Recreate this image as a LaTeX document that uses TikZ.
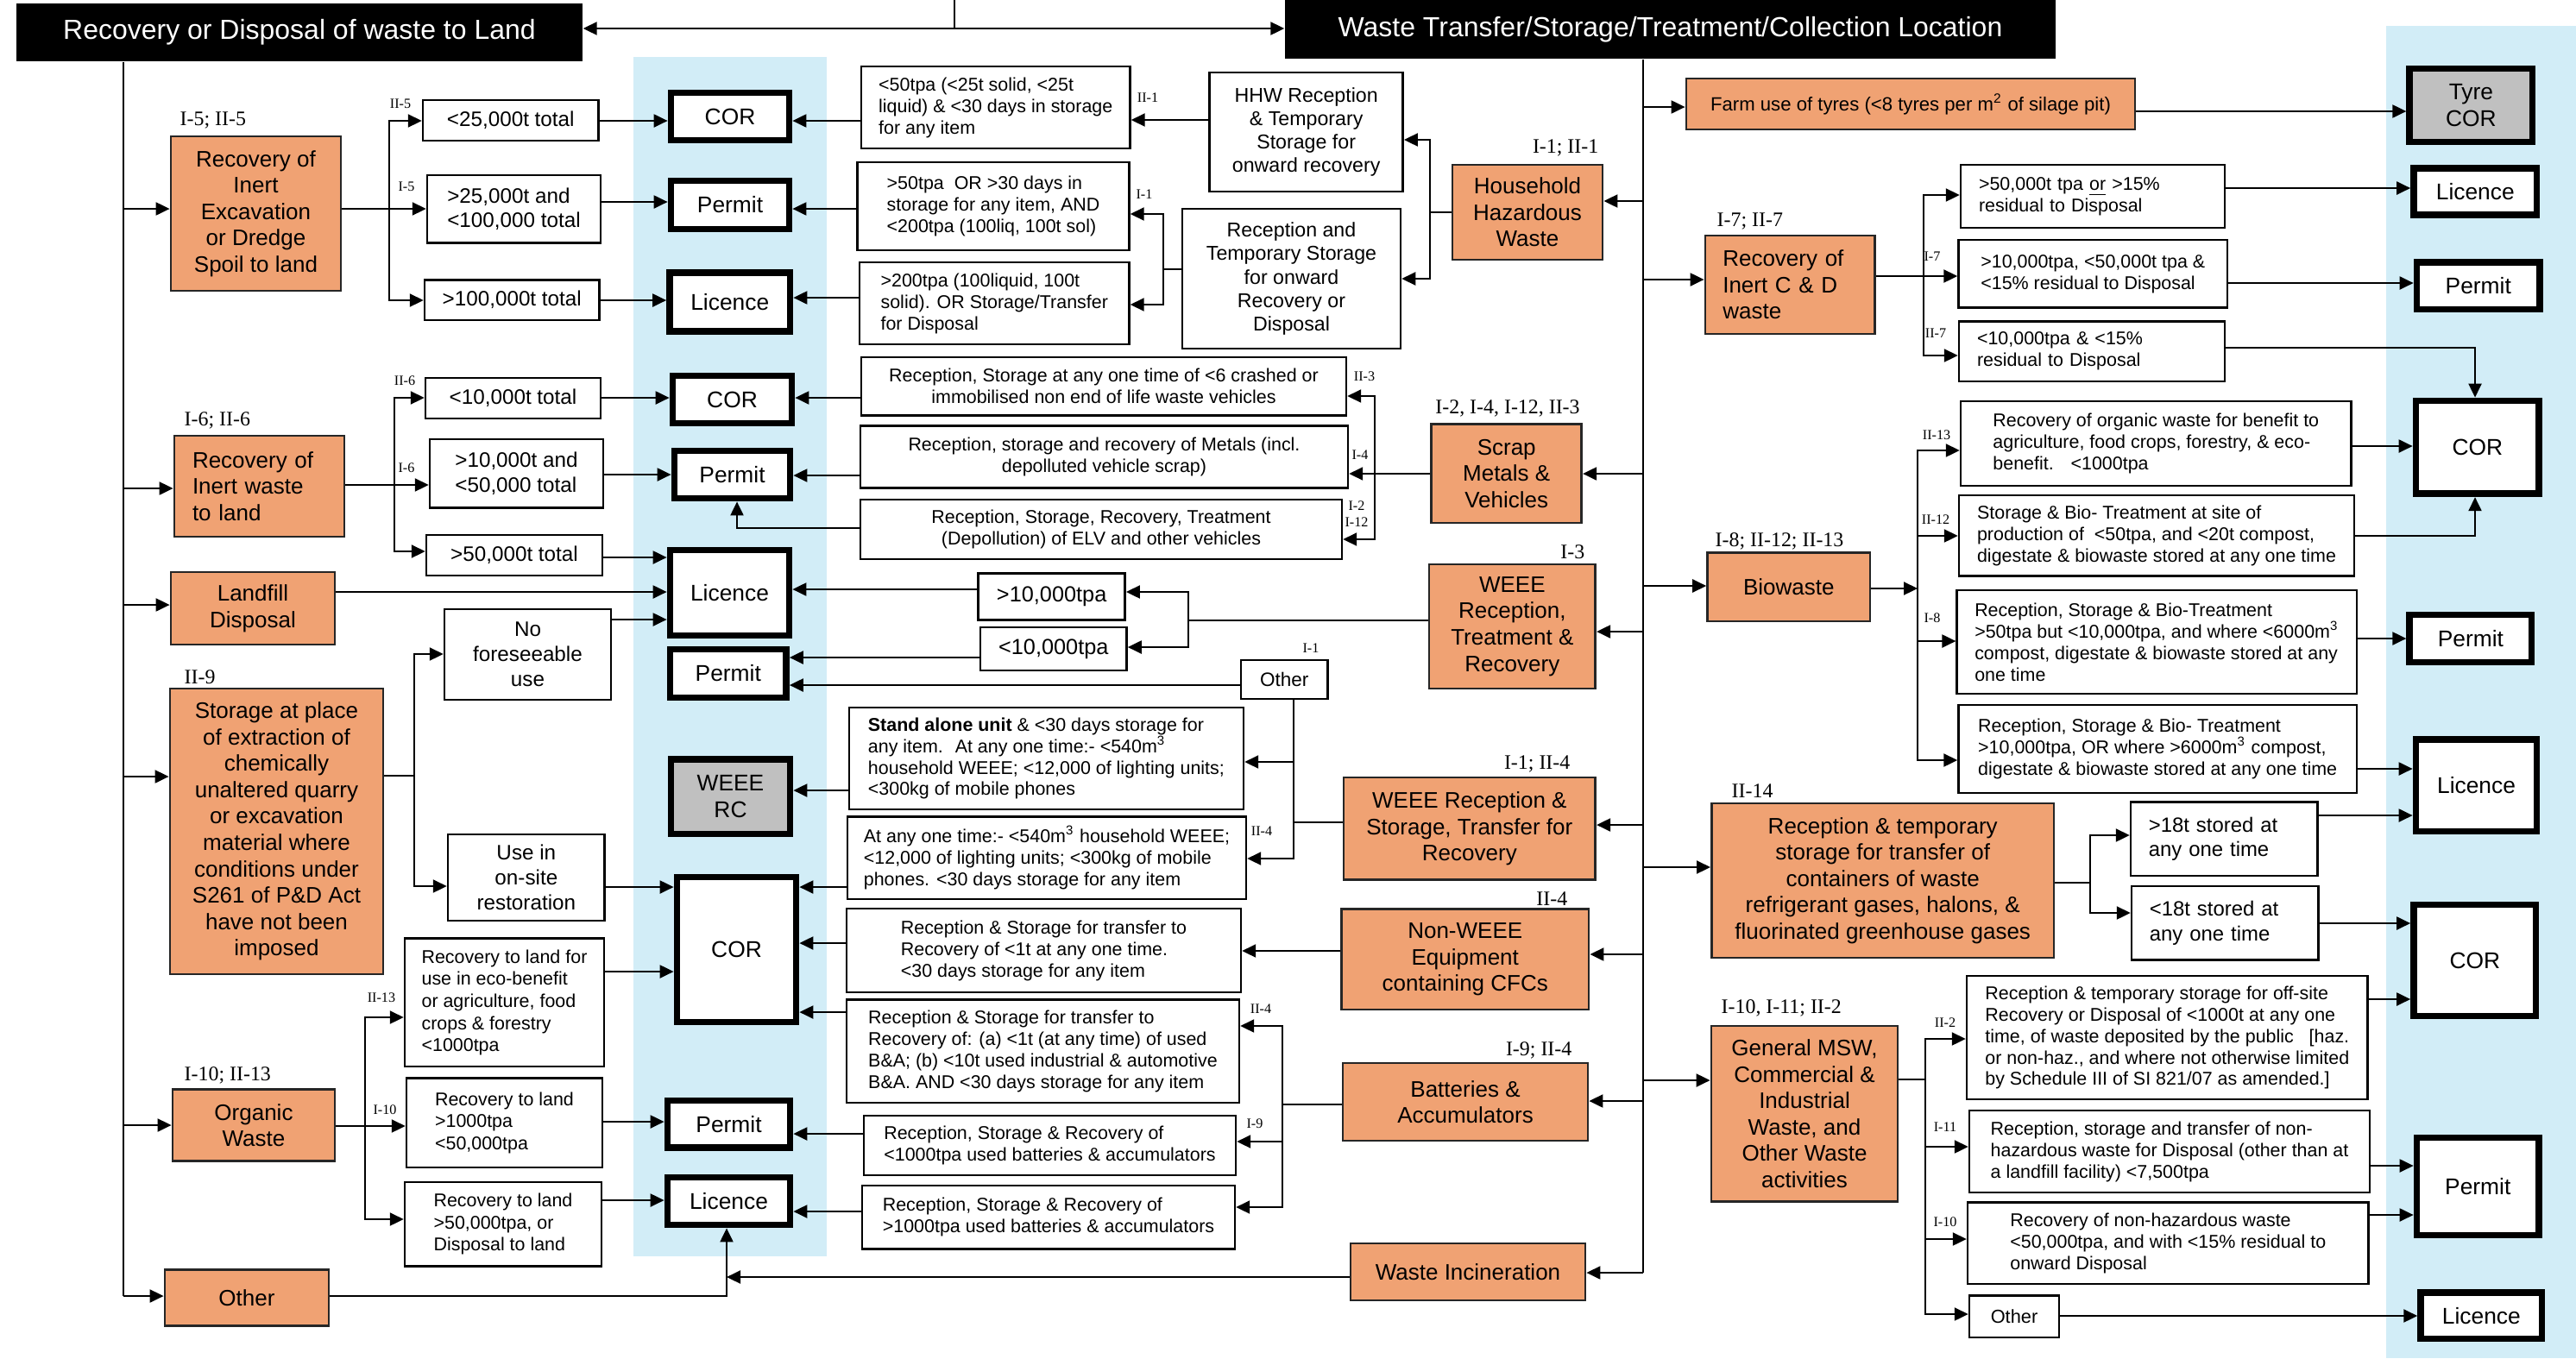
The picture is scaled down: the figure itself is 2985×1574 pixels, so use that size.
\documentclass[tikz,border=0pt]{standalone}
\usepackage{fontspec}
\setmainfont{Liberation Sans}
\newfontfamily\lblfont{Liberation Serif}
\usetikzlibrary{arrows.meta}

\definecolor{wasteorange}{RGB}{240,162,115}
\definecolor{regblue}{RGB}{210,237,247}
\definecolor{regrey}{RGB}{192,192,192}

\tikzset{
  hdr/.style={fill=black, text=white, inner sep=0pt, font=\fontsize{9.1}{11}\selectfont},
  obox/.style={draw=black!85, line width=0.8pt, fill=wasteorange, inner sep=1pt, align=center, font=\fontsize{7.4}{8.7}\selectfont},
  tbox/.style={draw, line width=0.7pt, fill=white, inner sep=1pt, align=left, font=\fontsize{6.9}{8.2}\selectfont},
  sbox/.style={draw, line width=0.7pt, fill=white, inner sep=1pt, align=left, font=\fontsize{6.1}{7.1}\selectfont},
  rbox/.style={draw, line width=2.2pt, fill=white, inner sep=1pt, align=center, font=\fontsize{7.5}{8.8}\selectfont},
  gbox/.style={rbox, fill=regrey},
  lbl/.style={inner sep=0pt, font=\lblfont\fontsize{6.8}{8}\selectfont},
  slbl/.style={inner sep=0pt, font=\lblfont\fontsize{4.6}{5.5}\selectfont},
  ln/.style={line width=0.6pt},
  arr/.style={line width=0.6pt, -{Triangle[length=1.6mm,width=1.5mm]}},
}

\begin{document}
\begin{tikzpicture}[x=0.1mm, y=-0.1mm]
  \useasboundingbox (0,0) rectangle (2985,1574);

  % Regulation bands
  \fill[regblue] (734,66) rectangle (958,1456);
  \fill[regblue] (2765,30) rectangle (2985,1574);

  % Bus and junction points
  \coordinate (topj) at (1106,0);
  \coordinate (lbus) at (143,0);
  \coordinate (mbus) at (1904,0);
  \coordinate (jA) at (451,0);
  \coordinate (jB) at (457,0);
  \coordinate (jD) at (480,0);
  \coordinate (jE) at (423,0);
  \coordinate (jL) at (842,0);
  \coordinate (jP) at (854,0);
  \coordinate (jH1) at (1657,0);
  \coordinate (jH2) at (1348,0);
  \coordinate (jS) at (1593,0);
  \coordinate (jW) at (1377,0);
  \coordinate (jO) at (1499,0);
  \coordinate (jBt) at (1486,0);
  \coordinate (jC) at (2229,0);
  \coordinate (jBio) at (2222,0);
  \coordinate (jR) at (2422,0);
  \coordinate (jM) at (2231,0);
  \coordinate (jCR) at (2868,0);

  % Headers
  \node[hdr, minimum width=65.6mm, minimum height=6.7mm] (hdrL) at (347,37.5) {Recovery or Disposal of waste to Land};
  \node[hdr, minimum width=89.3mm, minimum height=6.8mm] (hdrR) at (1935.5,34) {Waste Transfer/Storage/Treatment/Collection Location};

  % Land side activities
  \node[obox, minimum width=19.7mm, minimum height=17.9mm] (inertex) at (296.5,247.5) {Recovery of\\Inert\\Excavation\\or Dredge\\Spoil to land};
  \node[obox, align=left, text width=15.5mm, minimum width=19.7mm, minimum height=11.7mm] (inertw) at (300.5,563.5) {Recovery of\\Inert waste\\to land};
  \node[obox, minimum width=19.0mm, minimum height=8.4mm] (landfill) at (293,705) {Landfill\\Disposal};
  \node[obox, minimum width=24.7mm, minimum height=33.1mm] (storage) at (320.5,963.5) {Storage at place\\of extraction of\\chemically\\unaltered quarry\\or excavation\\material where\\conditions under\\S261 of P\&D Act\\have not been\\imposed};
  \node[obox, minimum width=18.8mm, minimum height=8.25mm] (organic) at (294,1304) {Organic\\Waste};
  \node[obox, minimum width=19.0mm, minimum height=6.55mm] (otherL) at (286,1504) {Other};

  \node[lbl, anchor=west] (lA) at (208,140) {I-5; II-5};
  \node[lbl, anchor=west] (lB) at (213,487) {I-6; II-6};
  \node[lbl, anchor=west] (lD) at (213,785) {II-9};
  \node[lbl, anchor=west] (lE) at (213,1246) {I-10; II-13};

  % Tonnage boxes
  \node[tbox, minimum width=20.35mm, minimum height=4.7mm] (t1) at (591.75,139.5) {<25,000t total};
  \node[tbox, minimum width=20.1mm, minimum height=7.85mm] (t2) at (595.5,242.25) {>25,000t and\\<100,000 total};
  \node[tbox, minimum width=20.25mm, minimum height=4.65mm] (t3) at (593.25,347.75) {>100,000t total};
  \node[tbox, minimum width=20.3mm, minimum height=4.7mm] (t4) at (594.5,461.5) {<10,000t total};
  \node[tbox, minimum width=20.1mm, minimum height=7.96mm] (t5) at (598.5,548.8) {>10,000t and\\<50,000 total};
  \node[tbox, minimum width=20.4mm, minimum height=4.7mm] (t6) at (596,643.5) {>50,000t total};
  \node[tbox, align=center, minimum width=19.3mm, minimum height=10.5mm] (noforesee) at (611.5,758.5) {No\\foreseeable\\use};
  \node[tbox, align=center, minimum width=18.17mm, minimum height=10.0mm] (useonsite) at (609.85,1017) {Use in\\on-site\\restoration};
  \node[tbox, font=\fontsize{6.1}{7.3}\selectfont, minimum width=23.1mm, minimum height=14.83mm] (o1) at (584.5,1161.85) {Recovery to land for\\use in eco-benefit\\or agriculture, food\\crops \& forestry\\<1000tpa};
  \node[tbox, font=\fontsize{6.1}{7.3}\selectfont, minimum width=22.7mm, minimum height=10.35mm] (o2) at (584.5,1301.25) {Recovery to land\\>1000tpa\\<50,000tpa};
  \node[tbox, font=\fontsize{6.1}{7.3}\selectfont, minimum width=22.8mm, minimum height=9.75mm] (o3) at (583,1418.75) {Recovery to land\\>50,000tpa, or\\Disposal to land};

  \node[slbl] (sA1) at (464,120) {II-5};
  \node[slbl] (sA2) at (471,216) {I-5};
  \node[slbl] (sB1) at (469,441) {II-6};
  \node[slbl] (sB2) at (471,542) {I-6};
  \node[slbl] (sE1) at (442,1156) {II-13};
  \node[slbl] (sE2) at (446,1286) {I-10};

  % Left regulation boxes
  \node[rbox, minimum width=13.7mm, minimum height=5.5mm] (cor1) at (846,135) {COR};
  \node[rbox, minimum width=13.7mm, minimum height=5.6mm] (permit1) at (846,237.5) {Permit};
  \node[rbox, minimum width=13.95mm, minimum height=6.81mm] (lic1) at (845.75,350.15) {Licence};
  \node[rbox, minimum width=13.8mm, minimum height=5.5mm] (cor2) at (848.5,463) {COR};
  \node[rbox, minimum width=13.4mm, minimum height=5.5mm] (permit2) at (848.5,550) {Permit};
  \node[rbox, minimum width=13.8mm, minimum height=9.9mm] (lic2) at (845.5,687) {Licence};
  \node[rbox, minimum width=13.45mm, minimum height=5.6mm] (permit3) at (843.75,780.5) {Permit};
  \node[gbox, minimum width=13.8mm, minimum height=8.64mm] (weeerc) at (846.5,923.3) {WEEE\\RC};
  \node[rbox, minimum width=13.8mm, minimum height=16.8mm] (cor3) at (853.5,1100.5) {COR};
  \node[rbox, minimum width=14.2mm, minimum height=5.46mm] (permit4) at (844.5,1302.8) {Permit};
  \node[rbox, minimum width=14.2mm, minimum height=5.5mm] (lic3) at (844.5,1392) {Licence};

  % Household hazardous waste
  \node[sbox, minimum width=31.15mm, minimum height=9.5mm] (hhw1) at (1153.75,124.5) {<50tpa (<25t solid, <25t\\liquid) \& <30 days in storage\\for any item};
  \node[sbox, minimum width=31.5mm, minimum height=10.2mm] (hhw2) at (1151,239) {>50tpa~ OR >30 days in\\storage for any item, AND\\<200tpa (100liq, 100t sol)};
  \node[sbox, minimum width=31.25mm, minimum height=9.5mm] (hhw3) at (1152.25,351.5) {>200tpa (100liquid, 100t\\solid). OR Storage/Transfer\\for Disposal};
  \node[tbox, align=center, font=\fontsize{6.6}{7.7}\selectfont, minimum width=22.41mm, minimum height=13.8mm] (hhwrec) at (1513.65,153) {HHW Reception\\\& Temporary\\Storage for\\onward recovery};
  \node[tbox, align=center, font=\fontsize{6.6}{7.7}\selectfont, minimum width=25.3mm, minimum height=16.2mm] (recontemp) at (1496.5,323) {Reception and\\Temporary Storage\\for onward\\Recovery or\\Disposal};
  \node[obox, minimum width=17.4mm, minimum height=11.0mm] (hhw) at (1770,246) {Household\\Hazardous\\Waste};
  \node[lbl, anchor=east] (lH) at (1853,171) {I-1; II-1};
  \node[slbl] (sH1) at (1330,113) {II-1};
  \node[slbl] (sH2) at (1326,225) {I-1};

  % Scrap metals and vehicles
  \node[sbox, align=center, minimum width=56.2mm, minimum height=6.76mm] (scr1) at (1279,447.8) {Reception, Storage at any one time of <6 crashed or\\immobilised non end of life waste vehicles};
  \node[sbox, align=center, minimum width=56.5mm, minimum height=7.21mm] (scr2) at (1279.5,529.55) {Reception, storage and recovery of Metals (incl.\\depolluted vehicle scrap)};
  \node[sbox, align=center, minimum width=55.8mm, minimum height=6.9mm] (scr3) at (1276,613.5) {Reception, Storage, Recovery, Treatment\\(Depollution) of ELV and other vehicles};
  \node[obox, minimum width=17.4mm, minimum height=11.42mm] (scrap) at (1745.7,548.9) {Scrap\\Metals \&\\Vehicles};
  \node[lbl] (lS) at (1747,473) {I-2, I-4, I-12, II-3};
  \node[slbl] (sS1) at (1581,436) {II-3};
  \node[slbl] (sS2) at (1576,527) {I-4};
  \node[slbl] (sS3) at (1572,586) {I-2};
  \node[slbl] (sS4) at (1572,605) {I-12};

  % WEEE
  \node[obox, minimum width=19.27mm, minimum height=14.4mm] (weeertr) at (1752.35,726) {WEEE\\Reception,\\Treatment \&\\Recovery};
  \node[lbl, anchor=east] (lW) at (1837,640) {I-3};
  \node[tbox, align=center, font=\fontsize{7.2}{8.4}\selectfont, minimum width=17.01mm, minimum height=5.37mm] (gt10) at (1218.65,691.55) {>10,000tpa};
  \node[tbox, align=center, font=\fontsize{7.2}{8.4}\selectfont, minimum width=16.96mm, minimum height=5.0mm] (lt10) at (1220.8,752) {<10,000tpa};
  \node[tbox, align=center, font=\fontsize{6.4}{7.5}\selectfont, minimum width=10.05mm, minimum height=4.5mm] (otherM) at (1488.25,787.5) {Other};
  \node[slbl] (sO1) at (1519,751) {I-1};
  \node[sbox, minimum width=45.72mm, minimum height=11.8mm] (standalone) at (1212.4,879) {\textbf{Stand alone unit} \& <30 days storage for\\any item.~ At any one time:- <540m\textsuperscript{3}\\household WEEE; <12,000 of lighting units;\\<300kg of mobile phones};
  \node[sbox, minimum width=46.2mm, minimum height=9.54mm] (anyone) at (1213,994.3) {At any one time:- <540m\textsuperscript{3} household WEEE;\\<12,000 of lighting units; <300kg of mobile\\phones. <30 days storage for any item};
  \node[slbl] (sO2) at (1462,963) {II-4};
  \node[obox, minimum width=29.17mm, minimum height=11.86mm] (weeers) at (1702.85,960.3) {WEEE Reception \&\\Storage, Transfer for\\Recovery};
  \node[lbl, anchor=east] (lWR) at (1820,885) {I-1; II-4};

  % Non-WEEE and batteries
  \node[obox, minimum width=28.65mm, minimum height=11.64mm] (nonweee) at (1697.75,1111.8) {Non-WEEE\\Equipment\\containing CFCs};
  \node[lbl, anchor=east] (lN) at (1817,1042) {II-4};
  \node[sbox, minimum width=45.7mm, minimum height=9.7mm] (rs1) at (1209.5,1101.5) {Reception \& Storage for transfer to\\Recovery of <1t at any one time.\\<30 days storage for any item};
  \node[sbox, minimum width=45.5mm, minimum height=11.95mm] (ba) at (1208.5,1218.25) {Reception \& Storage for transfer to\\Recovery of: (a) <1t (at any time) of used\\B\&A; (b) <10t used industrial \& automotive\\B\&A. AND <30 days storage for any item};
  \node[sbox, minimum width=43.1mm, minimum height=6.9mm] (b1) at (1216.5,1327.5) {Reception, Storage \& Recovery of\\<1000tpa used batteries \& accumulators};
  \node[sbox, minimum width=43.2mm, minimum height=7.37mm] (b2) at (1215,1410.85) {Reception, Storage \& Recovery of\\>1000tpa used batteries \& accumulators};
  \node[obox, minimum width=28.4mm, minimum height=9.0mm] (batt) at (1698,1277) {Batteries \&\\Accumulators};
  \node[lbl, anchor=east] (lBt) at (1822,1217) {I-9; II-4};
  \node[slbl] (sBt1) at (1461,1169) {II-4};
  \node[slbl] (sBt2) at (1454,1302) {I-9};
  \node[obox, minimum width=27.2mm, minimum height=6.6mm] (incin) at (1701,1474) {Waste Incineration};

  % Right side activities
  \node[obox, align=left, font=\fontsize{6.3}{7.5}\selectfont, minimum width=52.0mm, minimum height=5.9mm] (farm) at (2214,120.5) {Farm use of tyres (<8 tyres per m\textsuperscript{2} of silage pit)};
  \node[gbox, minimum width=14.23mm, minimum height=8.5mm] (tyrecor) at (2863.35,122) {Tyre\\COR};

  \node[obox, align=left, text width=15.6mm, minimum width=19.65mm, minimum height=11.4mm] (cnd) at (2074.25,330) {Recovery of\\Inert C \& D\\waste};
  \node[lbl, anchor=west] (lC) at (1989,257) {I-7; II-7};
  \node[sbox, text width=26.4mm, minimum width=30.6mm, minimum height=7.3mm] (c1) at (2425,227.5) {>50,000t tpa \underline{or} >15\%\\residual to Disposal};
  \node[sbox, minimum width=31.15mm, minimum height=7.86mm] (c2) at (2425.25,317.3) {>10,000tpa, <50,000t tpa \&\\<15\% residual to Disposal};
  \node[sbox, text width=26.6mm, minimum width=30.8mm, minimum height=6.93mm] (c3) at (2424,407.15) {<10,000tpa \& <15\%\\residual to Disposal};
  \node[slbl] (sC1) at (2239,297) {I-7};
  \node[slbl] (sC2) at (2243,386) {II-7};

  \node[obox, minimum width=18.84mm, minimum height=7.93mm] (bio) at (2072.8,680.35) {Biowaste};
  \node[lbl, anchor=west] (lBio) at (1987,627) {I-8; II-12; II-13};
  \node[sbox, minimum width=45.26mm, minimum height=9.8mm] (bio1) at (2498.3,514) {Recovery of organic waste for benefit to\\agriculture, food crops, forestry, \& eco-\\benefit.~~ <1000tpa};
  \node[sbox, minimum width=45.8mm, minimum height=9.37mm] (bio2) at (2499,620.85) {Storage \& Bio- Treatment at site of\\production of~ <50tpa, and <20t compost,\\digestate \& biowaste stored at any one time};
  \node[sbox, minimum width=46.32mm, minimum height=12.0mm] (bio3) at (2499.2,744) {Reception, Storage \& Bio-Treatment\\>50tpa but <10,000tpa, and where <6000m\textsuperscript{3}\\compost, digestate \& biowaste stored at any\\one time};
  \node[sbox, minimum width=46.13mm, minimum height=10.2mm] (bio4) at (2500.15,868) {Reception, Storage \& Bio- Treatment\\>10,000tpa, OR where >6000m\textsuperscript{3} compost,\\digestate \& biowaste stored at any one time};
  \node[slbl] (sBio1) at (2244,504) {II-13};
  \node[slbl] (sBio2) at (2243,602) {II-12};
  \node[slbl] (sBio3) at (2239,716) {I-8};

  \node[obox, minimum width=39.66mm, minimum height=17.9mm] (refr) at (2181.7,1020.5) {Reception \& temporary\\storage for transfer of\\containers of waste\\refrigerant gases, halons, \&\\fluorinated greenhouse gases};
  \node[lbl, anchor=west] (lR) at (2006,917) {II-14};
  \node[tbox, font=\fontsize{6.8}{8}\selectfont, text width=17.5mm, minimum width=21.66mm, minimum height=8.53mm] (gt18) at (2577.3,972.35) {>18t stored at\\any one time};
  \node[tbox, font=\fontsize{6.8}{8}\selectfont, text width=17.5mm, minimum width=21.66mm, minimum height=8.55mm] (lt18) at (2578.3,1069.75) {<18t stored at\\any one time};

  \node[obox, minimum width=21.6mm, minimum height=20.35mm] (msw) at (2091,1290.75) {General MSW,\\Commercial \&\\Industrial\\Waste, and\\Other Waste\\activities};
  \node[lbl, anchor=west] (lM) at (1994,1168) {I-10, I-11; II-2};
  \node[sbox, minimum width=46.46mm, minimum height=14.3mm] (m1) at (2511.3,1202.5) {Reception \& temporary storage for off-site\\Recovery or Disposal of <1000t at any one\\time, of waste deposited by the public~~ [haz.\\or non-haz., and where not otherwise limited\\by Schedule III of SI 821/07 as amended.]};
  \node[sbox, minimum width=46.4mm, minimum height=9.5mm] (m2) at (2514,1334.5) {Reception, storage and transfer of non-\\hazardous waste for Disposal (other than at\\a landfill facility) <7,500tpa};
  \node[sbox, minimum width=46.46mm, minimum height=9.45mm] (m3) at (2512.3,1440.75) {Recovery of non-hazardous waste\\<50,000tpa, and with <15\% residual to\\onward Disposal};
  \node[sbox, font=\fontsize{6.2}{7.4}\selectfont, minimum width=10.4mm, minimum height=4.85mm] (otherR) at (2334,1525.75) {Other};
  \node[slbl] (sM1) at (2254,1185) {II-2};
  \node[slbl] (sM2) at (2254,1306) {I-11};
  \node[slbl] (sM3) at (2254,1416) {I-10};

  % Right regulation boxes
  \node[rbox, minimum width=14.25mm, minimum height=5.42mm] (licR1) at (2868.25,222.2) {Licence};
  \node[rbox, minimum width=14.25mm, minimum height=5.42mm] (permR1) at (2871.75,331.4) {Permit};
  \node[rbox, minimum width=14.25mm, minimum height=10.78mm] (corR1) at (2870.75,518.4) {COR};
  \node[rbox, minimum width=14.13mm, minimum height=5.5mm] (permR2) at (2862.85,740) {Permit};
  \node[rbox, minimum width=14.0mm, minimum height=10.64mm] (licR2) at (2869.5,910.3) {Licence};
  \node[rbox, minimum width=14.15mm, minimum height=12.9mm] (corR2) at (2867.75,1113) {COR};
  \node[rbox, minimum width=14.15mm, minimum height=11.3mm] (permR3) at (2871.25,1375) {Permit};
  \node[rbox, minimum width=14.04mm, minimum height=5.33mm] (licR3) at (2875.3,1524.85) {Licence};

  % Top connector
  \draw[ln] (topj) -- (topj |- 0,33);
  \draw[arr] (topj |- 0,33) -- (hdrL.east |- 0,33);
  \draw[arr] (topj |- 0,33) -- (hdrR.west |- 0,33);

  % Left bus
  \draw[ln] (hdrL.south -| lbus) -- (lbus |- 0,1502);
  \draw[arr] (lbus |- 0,242) -- (inertex.west |- 0,242);
  \draw[arr] (lbus |- 0,566) -- (inertw.west |- 0,566);
  \draw[arr] (lbus |- 0,701) -- (landfill.west |- 0,701);
  \draw[arr] (lbus |- 0,900) -- (storage.west |- 0,900);
  \draw[arr] (lbus |- 0,1304) -- (organic.west |- 0,1304);
  \draw[arr] (lbus |- 0,1502) -- (otherL.west |- 0,1502);

  % Land side branches
  \draw[arr] (inertex.east |- 0,242) -- (t2.west |- 0,242);
  \draw[arr] (jA |- 0,242) |- (t1.west |- 0,140);
  \draw[arr] (jA |- 0,242) |- (t3.west |- 0,348);
  \draw[arr] (inertw.east |- 0,562) -- (t5.west |- 0,562);
  \draw[arr] (jB |- 0,562) |- (t4.west |- 0,461);
  \draw[arr] (jB |- 0,562) |- (t6.west |- 0,639);
  \draw[ln] (storage.east |- 0,899) -- (jD |- 0,899);
  \draw[arr] (jD |- 0,899) |- (noforesee.west |- 0,758);
  \draw[arr] (jD |- 0,899) |- (useonsite.west |- 0,1027);
  \draw[arr] (organic.east |- 0,1305) -- (o2.west |- 0,1305);
  \draw[arr] (jE |- 0,1305) |- (o1.west |- 0,1179);
  \draw[arr] (jE |- 0,1305) |- (o3.west |- 0,1413);

  % Into left regulation boxes
  \draw[arr] (t1.east |- 0,140) -- (cor1.west |- 0,140);
  \draw[arr] (t2.east |- 0,234) -- (permit1.west |- 0,234);
  \draw[arr] (t3.east |- 0,348) -- (lic1.west |- 0,348);
  \draw[arr] (t4.east |- 0,461) -- (cor2.west |- 0,461);
  \draw[arr] (t5.east |- 0,550) -- (permit2.west |- 0,550);
  \draw[arr] (t6.east |- 0,646) -- (lic2.west |- 0,646);
  \draw[arr] (landfill.east |- 0,686) -- (lic2.west |- 0,686);
  \draw[arr] (noforesee.east |- 0,718) -- (lic2.west |- 0,718);
  \draw[arr] (useonsite.east |- 0,1028) -- (cor3.west |- 0,1028);
  \draw[arr] (o1.east |- 0,1126) -- (cor3.west |- 0,1126);
  \draw[arr] (o2.east |- 0,1300) -- (permit4.west |- 0,1300);
  \draw[arr] (o3.east |- 0,1391) -- (lic3.west |- 0,1391);
  \draw[arr] (otherL.east |- 0,1502) -| (jL |- lic3.south);

  \draw[arr] (hhw1.west |- 0,140) -- (cor1.east |- 0,140);
  \draw[arr] (hhw2.west |- 0,242) -- (permit1.east |- 0,242);
  \draw[arr] (hhw3.west |- 0,345) -- (lic1.east |- 0,345);
  \draw[arr] (scr1.west |- 0,461) -- (cor2.east |- 0,461);
  \draw[arr] (scr2.west |- 0,551) -- (permit2.east |- 0,551);
  \draw[arr] (scr3.west |- 0,612) -| (jP |- permit2.south);
  \draw[arr] (gt10.west |- 0,683) -- (lic2.east |- 0,683);
  \draw[arr] (lt10.west |- 0,762) -- (permit3.east |- 0,762);
  \draw[arr] (otherM.west |- 0,794) -- (permit3.east |- 0,794);
  \draw[arr] (standalone.west |- 0,916) -- (weeerc.east |- 0,916);
  \draw[arr] (anyone.west |- 0,1028) -- (cor3.east |- 0,1028);
  \draw[arr] (rs1.west |- 0,1093) -- (cor3.east |- 0,1093);
  \draw[arr] (ba.west |- 0,1173) -- (cor3.east |- 0,1173);
  \draw[arr] (b1.west |- 0,1314) -- (permit4.east |- 0,1314);
  \draw[arr] (b2.west |- 0,1404) -- (lic3.east |- 0,1404);
  \draw[arr] (incin.west |- 0,1480) -- (jL |- 0,1480);

  % Middle branches
  \draw[ln] (hhw.west |- 0,246) -- (jH1 |- 0,246);
  \draw[arr] (jH1 |- 0,246) |- (hhwrec.east |- 0,162);
  \draw[arr] (jH1 |- 0,246) |- (recontemp.east |- 0,323);
  \draw[arr] (hhwrec.west |- 0,139) -- (hhw1.east |- 0,139);
  \draw[ln] (recontemp.west |- 0,312) -- (jH2 |- 0,312);
  \draw[arr] (jH2 |- 0,312) |- (hhw2.east |- 0,248);
  \draw[arr] (jH2 |- 0,312) |- (hhw3.east |- 0,353);

  \draw[arr] (scrap.west |- 0,549) -- (scr2.east |- 0,549);
  \draw[arr] (jS |- 0,549) |- (scr1.east |- 0,459);
  \draw[arr] (jS |- 0,549) |- (scr3.east |- 0,625);

  \draw[ln] (weeertr.west |- 0,719) -- (jW |- 0,719);
  \draw[arr] (jW |- 0,719) |- (gt10.east |- 0,686);
  \draw[arr] (jW |- 0,719) |- (lt10.east |- 0,750);

  \draw[arr] (otherM.south -| jO) |- (standalone.east |- 0,883);
  \draw[arr] (otherM.south -| jO) |- (anyone.east |- 0,995);
  \draw[ln] (weeers.west |- 0,953) -- (jO |- 0,953);

  \draw[arr] (nonweee.west |- 0,1102) -- (rs1.east |- 0,1102);

  \draw[ln] (batt.west |- 0,1280) -- (jBt |- 0,1280);
  \draw[arr] (jBt |- 0,1280) |- (ba.east |- 0,1189);
  \draw[arr] (jBt |- 0,1280) |- (b1.east |- 0,1323);
  \draw[arr] (jBt |- 0,1280) |- (b2.east |- 0,1399);

  % Middle bus
  \draw[ln] (hdrR.south -| mbus) -- (mbus |- 0,1475);
  \draw[arr] (mbus |- 0,233) -- (hhw.east |- 0,233);
  \draw[arr] (mbus |- 0,549) -- (scrap.east |- 0,549);
  \draw[arr] (mbus |- 0,732) -- (weeertr.east |- 0,732);
  \draw[arr] (mbus |- 0,956) -- (weeers.east |- 0,956);
  \draw[arr] (mbus |- 0,1106) -- (nonweee.east |- 0,1106);
  \draw[arr] (mbus |- 0,1276) -- (batt.east |- 0,1276);
  \draw[arr] (mbus |- 0,1475) -- (incin.east |- 0,1475);
  \draw[arr] (mbus |- 0,124) -- (farm.west |- 0,124);
  \draw[arr] (mbus |- 0,324) -- (cnd.west |- 0,324);
  \draw[arr] (mbus |- 0,679) -- (bio.west |- 0,679);
  \draw[arr] (mbus |- 0,1005) -- (refr.west |- 0,1005);
  \draw[arr] (mbus |- 0,1252) -- (msw.west |- 0,1252);

  % Right branches
  \draw[arr] (farm.east |- 0,129) -- (tyrecor.west |- 0,129);

  \draw[arr] (cnd.east |- 0,320) -- (c2.west |- 0,320);
  \draw[arr] (jC |- 0,320) |- (c1.west |- 0,226);
  \draw[arr] (jC |- 0,320) |- (c3.west |- 0,412);
  \draw[arr] (c1.east |- 0,218) -- (licR1.west |- 0,218);
  \draw[arr] (c2.east |- 0,328) -- (permR1.west |- 0,328);
  \draw[arr] (c3.east |- 0,403) -| (jCR |- corR1.north);

  \draw[arr] (bio.east |- 0,682) -- (jBio |- 0,682);
  \draw[arr] (jBio |- 0,682) |- (bio1.west |- 0,522);
  \draw[arr] (jBio |- 0,682) |- (bio2.west |- 0,621);
  \draw[arr] (jBio |- 0,682) |- (bio3.west |- 0,743);
  \draw[arr] (jBio |- 0,682) |- (bio4.west |- 0,881);
  \draw[arr] (bio1.east |- 0,517) -- (corR1.west |- 0,517);
  \draw[arr] (bio2.east |- 0,621) -| (jCR |- corR1.south);
  \draw[arr] (bio3.east |- 0,740) -- (permR2.west |- 0,740);
  \draw[arr] (bio4.east |- 0,891) -- (licR2.west |- 0,891);

  \draw[ln] (refr.east |- 0,1023) -- (jR |- 0,1023);
  \draw[arr] (jR |- 0,1023) |- (gt18.west |- 0,968);
  \draw[arr] (jR |- 0,1023) |- (lt18.west |- 0,1058);
  \draw[arr] (gt18.east |- 0,945) -- (licR2.west |- 0,945);
  \draw[arr] (lt18.east |- 0,1070) -- (corR2.west |- 0,1070);

  \draw[ln] (msw.east |- 0,1251) -- (jM |- 0,1251);
  \draw[arr] (jM |- 0,1251) |- (m1.west |- 0,1204);
  \draw[arr] (jM |- 0,1251) |- (m2.west |- 0,1329);
  \draw[arr] (jM |- 0,1251) |- (m3.west |- 0,1436);
  \draw[arr] (jM |- 0,1251) |- (otherR.west |- 0,1523);
  \draw[arr] (m1.east |- 0,1158) -- (corR2.west |- 0,1158);
  \draw[arr] (m2.east |- 0,1351) -- (permR3.west |- 0,1351);
  \draw[arr] (m3.east |- 0,1408) -- (permR3.west |- 0,1408);
  \draw[arr] (otherR.east |- 0,1525) -- (licR3.west |- 0,1525);

\end{tikzpicture}
\end{document}
